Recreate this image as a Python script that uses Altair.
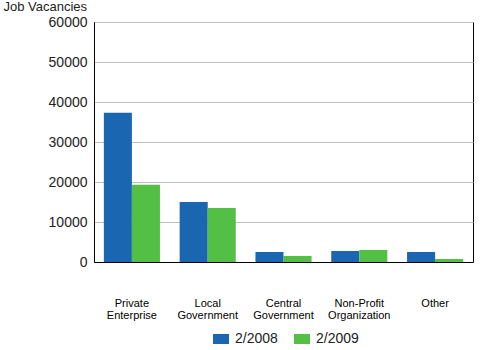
import altair as alt
import pandas as pd

categories = ["Private Enterprise", "Local Government", "Central Government", "Non-Profit Organization", "Other"]
series = ["2/2008", "2/2009"]
v2008 = [37300, 15000, 2500, 2750, 2500]
v2009 = [19300, 13500, 1500, 3000, 750]

rows = []
for c, a, b in zip(categories, v2008, v2009):
    rows.append({"cat": c, "period": series[0], "value": a})
    rows.append({"cat": c, "period": series[1], "value": b})
df = pd.DataFrame(rows)

FONT = "Liberation Sans"

chart = alt.Chart(df).mark_bar().encode(
    x=alt.X("cat:N", sort=categories,
            scale=alt.Scale(paddingInner=0.26, paddingOuter=0.13),
            axis=alt.Axis(title=None, labelAngle=0, ticks=False, labelPadding=35,
                          labelExpr="split(datum.label, ' ')", labelFontSize=11,
                          labelColor="black", domainColor="black", labelFont=FONT,
                          labelLineHeight=12)),
    xOffset=alt.XOffset("period:N", sort=series),
    y=alt.Y("value:Q", scale=alt.Scale(domain=[0, 60000]),
            axis=alt.Axis(values=[0, 10000, 20000, 30000, 40000, 50000, 60000],
                          format="d", ticks=False, labelPadding=7, labelFontSize=14,
                          labelColor="#222222", labelFont=FONT, gridColor="#c0c0c0",
                          domainColor="black",
                          title="Job Vacancies", titleAngle=0, titleAlign="left",
                          titleX=-91, titleY=-9, titleFontSize=13, titleFontWeight="normal",
                          titleFont=FONT, titleColor="#222222", titleBaseline="bottom")),
    color=alt.Color("period:N", sort=series,
                    scale=alt.Scale(domain=series, range=["#1a66b0", "#53bf45"]),
                    legend=alt.Legend(title=None, orient="none", direction="horizontal",
                                      legendX=117, legendY=307, labelOffset=4,
                                      symbolType="M-0.8,-0.5H0.8V0.5H-0.8Z", symbolSize=400,
                                      symbolStrokeWidth=0, labelFontSize=14, labelFont=FONT,
                                      labelColor="#222222", columnPadding=14, symbolOffset=0)),
).properties(
    width=379, height=240,
    padding={"left": 94, "top": 22, "right": 27, "bottom": 88},
    autosize=alt.AutoSizeParams(type="none"),
).configure_view(stroke="black", strokeWidth=1)

chart.save("out.html", embed_options={"renderer": "svg", "actions": False})
